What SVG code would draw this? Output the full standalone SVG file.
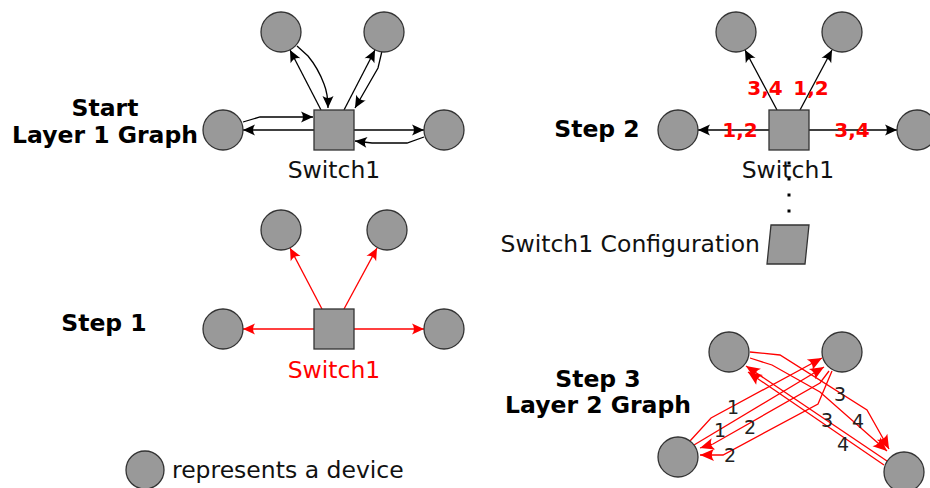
<svg xmlns="http://www.w3.org/2000/svg" width="930" height="488" viewBox="0 0 930 488">
<style>
.dev{fill:#999999;stroke:#333333;stroke-width:1.3}
.sw{fill:#999999;stroke:#333333;stroke-width:1.3}
.t{font-family:"DejaVu Sans","Liberation Sans",sans-serif;font-size:23.5px;fill:#111111}
.b{font-family:"DejaVu Sans","Liberation Sans",sans-serif;font-size:23.5px;font-weight:bold;fill:#000000;text-anchor:middle}
.el{font-family:"DejaVu Sans","Liberation Sans",sans-serif;font-size:20px;font-weight:bold;fill:#ff0000;text-anchor:middle}
.nl{font-family:"DejaVu Sans","Liberation Sans",sans-serif;font-size:19px;fill:#222222;text-anchor:middle}
.k{fill:none;stroke:#000000;stroke-width:1.3;marker-end:url(#ak)}
.r{fill:none;stroke:#ff0000;stroke-width:1.3;marker-end:url(#ar)}
.r3{fill:none;stroke:#ff0000;stroke-width:1.3;marker-end:url(#ar3)}
</style>
<defs>
<marker id="ak" markerUnits="userSpaceOnUse" viewBox="-13 -7 14 14" markerWidth="14" markerHeight="14" refX="0" refY="0" orient="auto">
<path d="M0,0 L-12,-5.5 Q-8,0 -12,5.5 Z" fill="#000000"/>
</marker>
<marker id="ar" markerUnits="userSpaceOnUse" viewBox="-13 -7 14 14" markerWidth="14" markerHeight="14" refX="0" refY="0" orient="auto">
<path d="M0,0 L-12,-5.5 Q-8,0 -12,5.5 Z" fill="#ff0000"/>
</marker>
<marker id="ar3" markerUnits="userSpaceOnUse" viewBox="-15 -8 16 16" markerWidth="16" markerHeight="16" refX="0" refY="0" orient="auto">
<path d="M0,0 L-14,-6 Q-9.5,0 -14,6 Z" fill="#ff0000"/>
</marker>
</defs>
<rect width="930" height="488" fill="#ffffff"/>

<!-- Titles -->
<g id="titles">
<text class="b" x="105" y="116">Start</text>
<text class="b" x="105" y="143">Layer 1 Graph</text>
<text class="b" x="597" y="137">Step 2</text>
<text class="b" x="104" y="331">Step 1</text>
<text class="b" x="598" y="387">Step 3</text>
<text class="b" x="598" y="413">Layer 2 Graph</text>
</g>

<!-- Connectors -->
<g id="connectors">
<!-- Start graph -->
<path class="k" d="M321,110 L290,50"/>
<path class="k" d="M297,46 L308,56 Q318,68 324,84 Q328,94 328,108"/>
<path class="k" d="M344,110 L375,50"/>
<path class="k" d="M382,51 L378,68 L355,108"/>
<path class="k" d="M243,122 L260,117 L313,117"/>
<path class="k" d="M314,130 L243,130"/>
<path class="k" d="M354,130 L424,130"/>
<path class="k" d="M424,137 L407,143 L372,143 L355,141"/>
<!-- Step 2 -->
<path class="k" d="M777,110 L745,50"/>
<path class="k" d="M800,110 L832,50"/>
<path class="k" d="M769,130 L698,130"/>
<path class="k" d="M809,130 L897,130"/>
<line x1="789" y1="153" x2="789" y2="222" stroke="#000000" stroke-width="3" stroke-dasharray="3 13" stroke-dashoffset="-8.5"/>
<!-- Step 1 -->
<path class="r" d="M322,309 L290,248"/>
<path class="r" d="M344,309 L377,248"/>
<path class="r" d="M314,329 L243,329"/>
<path class="r" d="M354,329 L424,329"/>
<!-- Step 3 -->
<path class="r3" d="M690,441 L711,418 L822,358"/>
<path class="r3" d="M694,445 L824,367"/>
<path class="r3" d="M829,371 L820,383 L713,444 L700,448"/>
<path class="r3" d="M832,371 L818,404 L723,455 L700,455"/>
<path class="r3" d="M750,352 L780,355 L867,410 L889,449"/>
<path class="r3" d="M750,358 L772,365 L820,392 L887,451"/>
<path class="r3" d="M887,461 L746,366"/>
<path class="r3" d="M884,465 L748,372"/>
</g>

<!-- Start graph nodes -->
<g id="s0-tl"><circle class="dev" cx="281" cy="32" r="20"/></g>
<g id="s0-tr"><circle class="dev" cx="384" cy="32" r="20"/></g>
<g id="s0-l"><circle class="dev" cx="223" cy="130" r="20"/></g>
<g id="s0-r"><circle class="dev" cx="444" cy="130" r="20"/></g>
<g id="s0-switch"><rect class="sw" x="314" y="110" width="40" height="40"/><text class="t" x="334" y="178" text-anchor="middle">Switch1</text></g>

<!-- Step 1 nodes -->
<g id="s1-tl"><circle class="dev" cx="281" cy="230" r="20"/></g>
<g id="s1-tr"><circle class="dev" cx="387" cy="230" r="20"/></g>
<g id="s1-l"><circle class="dev" cx="223" cy="329" r="20"/></g>
<g id="s1-r"><circle class="dev" cx="444" cy="329" r="20"/></g>
<g id="s1-switch"><rect class="sw" x="314" y="309" width="40" height="40"/><text class="t" x="334" y="378" text-anchor="middle" style="fill:#ff0000">Switch1</text></g>

<!-- Step 2 nodes -->
<g id="s2-tl"><circle class="dev" cx="736" cy="32" r="20"/></g>
<g id="s2-tr"><circle class="dev" cx="842" cy="32" r="20"/></g>
<g id="s2-l"><circle class="dev" cx="678" cy="130" r="20"/></g>
<g id="s2-r"><circle class="dev" cx="917" cy="130" r="20"/></g>
<g id="s2-switch"><rect class="sw" x="769" y="110" width="40" height="40"/><text class="t" x="788" y="178" text-anchor="middle">Switch1</text></g>
<g id="s2-labels">
<text class="el" x="765" y="95">3,4</text>
<text class="el" x="811" y="95">1,2</text>
<text class="el" x="740" y="137">1,2</text>
<text class="el" x="852" y="137">3,4</text>
</g>
<g id="s2-config"><polygon class="sw" points="771,225 809,225 805,264 767,264"/><text class="t" x="760" y="252" text-anchor="end">Switch1 Configuration</text></g>

<!-- Step 3 nodes -->
<g id="s3-tl"><circle class="dev" cx="729" cy="352" r="20"/></g>
<g id="s3-tr"><circle class="dev" cx="842" cy="352" r="20"/></g>
<g id="s3-bl"><circle class="dev" cx="678" cy="457" r="20"/></g>
<g id="s3-br"><circle class="dev" cx="904" cy="472" r="20"/></g>
<g id="s3-labels">
<text class="nl" x="733" y="414">1</text>
<text class="nl" x="720" y="437">1</text>
<text class="nl" x="750" y="434">2</text>
<text class="nl" x="730" y="462">2</text>
<text class="nl" x="840" y="401">3</text>
<text class="nl" x="858" y="428">4</text>
<text class="nl" x="827" y="427">3</text>
<text class="nl" x="843" y="451">4</text>
</g>

<!-- Legend -->
<g id="legend"><circle class="dev" cx="145" cy="470" r="19"/><text class="t" x="172" y="478">represents a device</text></g>
</svg>
